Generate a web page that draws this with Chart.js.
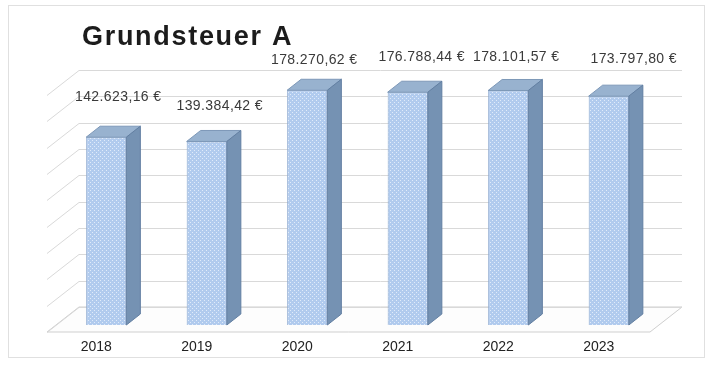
<!DOCTYPE html>
<html>
<head>
<meta charset="utf-8">
<script src="https://cdn.jsdelivr.net/npm/chart.js@4/dist/chart.umd.min.js"></script>
<style>
html, body { margin: 0; padding: 0; background: #fff; }
</style>
</head>
<body>
<canvas id="chart" width="713" height="369"></canvas>
<script>
// Daten
const jahre = ['2018', '2019', '2020', '2021', '2022', '2023'];
const betraege = [142623.16, 139384.42, 178270.62, 176788.44, 178101.57, 173797.80];
const achseMax = 180000;
const achseSchritt = 20000;
const titel = 'Grundsteuer A';

// 3D-Versatz: Balkentiefe, Rückwand und vordere Bodenkante (relativ zur Balkenfront)
const balkenTiefe = { dx: 14, dy: -11 };
const rueckwand = { dx: 23, dy: -18 };
const bodenVorne = { dx: -9, dy: 7 };

// Lage der Datenbeschriftungen (von Hand verschoben, relativ zur Balkenoberkante)
const labelVersatz = [[12, -40], [13, -35], [7, -30], [14, -35], [8, -33], [25, -37]];

const schrift = "'Liberation Sans', Arial, sans-serif";

function euro(v) {
    const [ganz, dez] = v.toFixed(2).split('.');
    return ganz.replace(/\B(?=(\d{3})+(?!\d))/g, '.') + ',' + dez + ' €';
}

const canvas = document.getElementById('chart');
const ctx = canvas.getContext('2d');

// Punktmuster für die Balkenfront
function punktMuster() {
    const c = document.createElement('canvas');
    c.width = 4;
    c.height = 4;
    const g = c.getContext('2d');
    g.fillStyle = '#b1cbee';
    g.fillRect(0, 0, 4, 4);
    g.fillStyle = '#e0ebfa';
    g.fillRect(0, 0, 1, 1);
    g.fillRect(2, 2, 1, 1);
    return ctx.createPattern(c, 'repeat');
}

// Rahmen, Titel, Boden und Gitternetz an Rück- und Seitenwand
const raum = {
    id: 'raum',
    beforeDraw(chart) {
        const c = chart.ctx;
        c.save();
        c.fillStyle = '#fff';
        c.fillRect(0, 0, chart.width, chart.height);
        c.strokeStyle = '#e0e0e0';
        c.lineWidth = 1;
        c.strokeRect(8.5, 5.5, 696, 352);
        c.restore();
    },
    beforeDatasetsDraw(chart) {
        const c = chart.ctx;
        const a = chart.chartArea;
        const y = chart.scales.y;
        const y0 = y.getPixelForValue(0);
        c.save();
        c.lineWidth = 1;

        // Boden
        c.beginPath();
        c.moveTo(a.left + bodenVorne.dx, y0 + bodenVorne.dy);
        c.lineTo(a.right + bodenVorne.dx, y0 + bodenVorne.dy);
        c.lineTo(a.right + rueckwand.dx, y0 + rueckwand.dy);
        c.lineTo(a.left + rueckwand.dx, y0 + rueckwand.dy);
        c.closePath();
        c.fillStyle = '#fdfdfd';
        c.fill();
        c.strokeStyle = '#cfcfcf';
        c.stroke();

        // Gitternetzlinien
        c.beginPath();
        y.ticks.forEach(t => {
            const py = Math.round(y.getPixelForValue(t.value)) + 0.5;
            c.moveTo(a.left + bodenVorne.dx, py + bodenVorne.dy);
            c.lineTo(a.left + rueckwand.dx, py + rueckwand.dy);
            c.lineTo(a.right + rueckwand.dx, py + rueckwand.dy);
        });
        c.strokeStyle = '#d9d9d9';
        c.stroke();
        c.restore();
    },
    afterDatasetsDraw(chart) {
        const c = chart.ctx;
        const meta = chart.getDatasetMeta(0);
        c.save();
        meta.data.forEach((bar, i) => {
            const { x, y, base, width } = bar.getProps(['x', 'y', 'base', 'width'], true);
            const l = x - width / 2;
            const r = x + width / 2;
            const { dx, dy } = balkenTiefe;

            // Deckfläche
            c.beginPath();
            c.moveTo(l, y);
            c.lineTo(r, y);
            c.lineTo(r + dx, y + dy);
            c.lineTo(l + dx, y + dy);
            c.closePath();
            c.fillStyle = '#98b2cf';
            c.fill();
            c.strokeStyle = '#7d98b8';
            c.stroke();

            // Seitenfläche
            c.beginPath();
            c.moveTo(r, y);
            c.lineTo(r + dx, y + dy);
            c.lineTo(r + dx, base + dy);
            c.lineTo(r, base);
            c.closePath();
            c.fillStyle = '#7592b3';
            c.fill();
            c.strokeStyle = '#627fa2';
            c.stroke();

            // Datenbeschriftung
            const [lx, ly] = labelVersatz[i];
            c.font = '14px ' + schrift;
            c.letterSpacing = '0.4px';
            c.fillStyle = '#3a3a3a';
            c.textAlign = 'center';
            c.textBaseline = 'middle';
            c.fillText(euro(betraege[i]), x + lx, y + ly);
        });

        // Titel
        c.font = 'bold 27px ' + schrift;
        c.letterSpacing = '1.7px';
        c.fillStyle = '#1c1c1c';
        c.textAlign = 'left';
        c.textBaseline = 'alphabetic';
        c.fillText(titel, 82, 45);
        c.restore();
    }
};

const chart = new Chart(ctx, {
    type: 'bar',
    data: {
        labels: jahre,
        datasets: [{
            data: betraege,
            backgroundColor: punktMuster(),
            borderColor: '#8eaad0',
            borderWidth: 1,
            barPercentage: 0.4,
            categoryPercentage: 1
        }]
    },
    options: {
        responsive: false,
        animation: false,
        layout: {
            padding: { left: 56, right: 54, top: 88, bottom: 0 }
        },
        plugins: {
            legend: { display: false },
            tooltip: { enabled: false },
            title: { display: false }
        },
        scales: {
            x: {
                grid: { display: false, drawTicks: false },
                border: { display: false },
                ticks: {
                    color: '#222',
                    font: { family: schrift, size: 14 },
                    padding: 14,
                    labelOffset: -10
                },
                afterFit: (s) => { s.height = 44; }
            },
            y: {
                display: false,
                min: 0,
                max: achseMax,
                ticks: { stepSize: achseSchritt }
            }
        }
    },
    plugins: [raum]
});
</script>
</body>
</html>
